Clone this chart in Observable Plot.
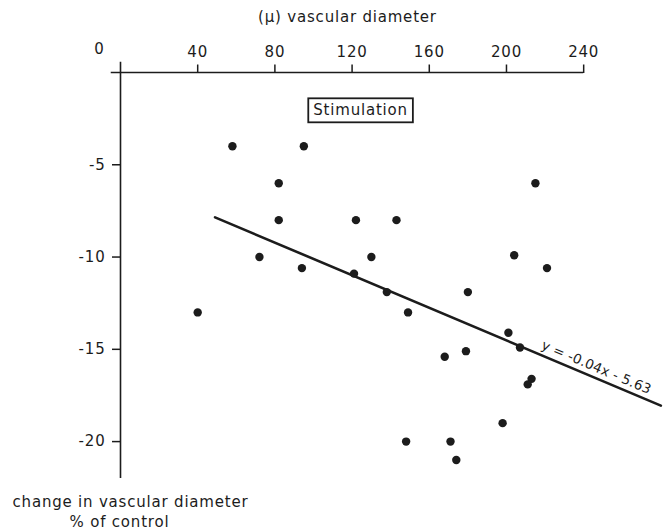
<!DOCTYPE html>
<html>
<head>
<meta charset="utf-8">
<script src="https://cdn.jsdelivr.net/npm/d3@7"></script>
<script src="https://cdn.jsdelivr.net/npm/@observablehq/plot@0.6"></script>
<style>
  html, body { margin: 0; padding: 0; background: #fff; }
</style>
</head>
<body>
<script>
// ---- data ----
const xTicks = [40, 80, 120, 160, 200, 240];
const yTicks = [-5, -10, -15, -20];
const diameter = [58, 95, 82, 82, 122, 143, 72, 130, 94, 121, 138, 40, 149, 180, 215, 204, 221, 201, 207, 179, 168, 213, 211, 198, 148, 171, 174];
const change   = [-4, -4, -6, -8, -8, -8, -10, -10, -10.6, -10.9, -11.9, -13, -13, -11.9, -6, -9.9, -10.6, -14.1, -14.9, -15.1, -15.4, -16.6, -16.9, -19, -20, -20, -21];
const fitX = [49, 280];
const fitY = [-7.85, -18.05];
const xTitle = "(µ) vascular diameter";
const yTitle1 = "change in vascular diameter";
const yTitle2 = "% of control";
const boxLabel = "Stimulation";
const equation = "y = -0.04x - 5.63";

const ink = "#1c1c1c";
const points = diameter.map((d, i) => ({x: d, y: change[i]}));
const fit = fitX.map((d, i) => ({x: d, y: fitY[i]}));

const chart = Plot.plot({
  width: 665,
  height: 532,
  marginLeft: 120,
  marginRight: 0,
  marginTop: 72,
  marginBottom: 54,
  x: {domain: [0, 282.4]},
  y: {domain: [-22, 0]},
  style: {fontFamily: "DejaVu Sans", fontSize: "15px", color: ink, background: "#fff", letterSpacing: "0.8px"},
  marks: [
    // axis lines
    Plot.ruleY([0], {x1: -4.8, x2: 240, stroke: ink, strokeWidth: 1.6}),
    Plot.ruleX([0], {y1: 0.55, y2: -22, stroke: ink, strokeWidth: 1.6}),
    Plot.axisX(xTicks, {anchor: "top", tickSize: 8.5, tickPadding: 7, label: null, stroke: ink, strokeWidth: 1.5, fill: ink}),
    Plot.text([0], {x: d => d, y: [0], text: d => String(d), dx: -21, dy: -23, fill: ink}),
    Plot.axisY(yTicks, {anchor: "left", tickSize: 8, tickPadding: 7, tickFormat: d => String(d), label: null, stroke: ink, strokeWidth: 1.5, fill: ink}),
    // titles
    Plot.text([xTitle], {x: [117.6], y: [0], dy: -55, text: d => d, fill: ink}),
    Plot.text([yTitle1], {x: [0], y: [-22], dx: 10, dy: 24, text: d => d, fill: ink}),
    Plot.text([yTitle2], {x: [0], y: [-22], dx: -1, dy: 44, text: d => d, fill: ink}),
    // regression line and data
    Plot.line(fit, {x: "x", y: "y", stroke: ink, strokeWidth: 2.6}),
    Plot.dot(points, {x: "x", y: "y", r: 4.2, fill: ink, stroke: "none"}),
    // annotations
    Plot.text([equation], {x: [217.6], y: [-15.28], text: d => d, rotate: 22.9, textAnchor: "start", lineAnchor: "bottom", dy: -6, fontSize: 13.5, fill: ink, style: "letter-spacing:0.3px"}),
    Plot.text([boxLabel], {x: [124.4], y: [-2.06], text: d => d, fill: ink, className: "stim-label"})
  ]
});

document.body.append(chart);

// the equation: tighter letter spacing so it stays inside the frame
chart.querySelectorAll("text").forEach(el => {
  if (el.textContent === equation) el.setAttribute("letter-spacing", "0.2px");
});

// frame the "Stimulation" label
const t = chart.querySelector(".stim-label text");
if (t) {
  const bb = t.getBBox();
  const r = document.createElementNS("http://www.w3.org/2000/svg", "rect");
  r.setAttribute("x", bb.x - 5);
  r.setAttribute("y", bb.y - 3);
  r.setAttribute("width", bb.width + 10);
  r.setAttribute("height", bb.height + 6);
  r.setAttribute("fill", "none");
  r.setAttribute("stroke", ink);
  r.setAttribute("stroke-width", "1.8");
  const tr = t.getAttribute("transform");
  if (tr) r.setAttribute("transform", tr);
  t.parentNode.insertBefore(r, t);
}
</script>
</body>
</html>
